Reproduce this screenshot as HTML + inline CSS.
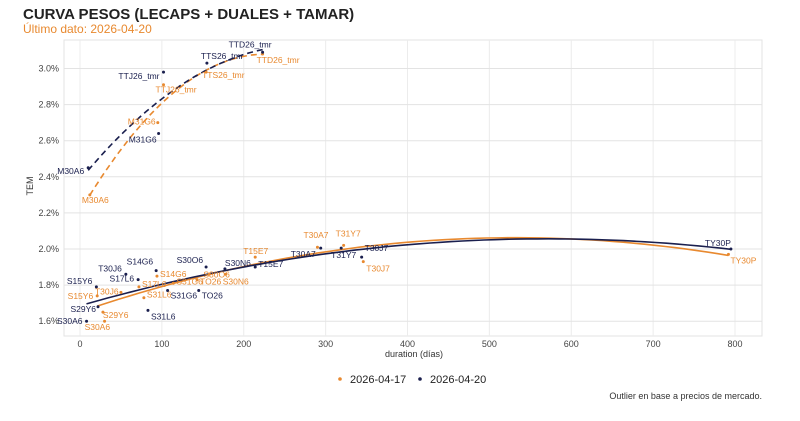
<!DOCTYPE html>
<html><head><meta charset="utf-8"><style>
body{margin:0;background:#fff;width:800px;height:416px;overflow:hidden;font-family:"Liberation Sans",sans-serif}
svg text{font-family:"Liberation Sans",sans-serif}
</style></head><body>
<svg id="chart" width="800" height="416" xmlns="http://www.w3.org/2000/svg">
<text x="23" y="19" font-size="15" font-weight="bold" fill="#222">CURVA PESOS (LECAPS + DUALES + TAMAR)</text>
<text x="23" y="33" font-size="12" fill="#e8892f">Último dato: 2026-04-20</text>
<text transform="translate(33,186) rotate(-90)" font-size="9" fill="#333" text-anchor="middle">TEM</text>
<text x="414" y="357" font-size="9" fill="#333" text-anchor="middle">duration (días)</text>
<g>
<circle cx="340" cy="379" r="1.8" fill="#e8892f"/>
<text x="350" y="383" font-size="11" fill="#222">2026-04-17</text>
<circle cx="420" cy="379" r="1.8" fill="#1a1f4e"/>
<text x="430" y="383" font-size="11" fill="#222">2026-04-20</text>
</g>
<text x="762" y="399" font-size="9" fill="#333" text-anchor="end">Outlier en base a precios de mercado.</text>
<g id="grid"></g><g id="marks"></g>
</svg>
<script>
const xTicks=[0,100,200,300,400,500,600,700,800];
const yTicks=[1.6,1.8,2.0,2.2,2.4,2.6,2.8,3.0];
// 2026-04-20 (navy)
const navyFixedNames=["S30A6","S29Y6","S15Y6","T30J6","S17L6","S14G6","S31L6","S31G6","TO26","S30O6","S30N6","T15E7","T30A7","T31Y7","T30J7","TY30P"];
const navyFixedDays=[8,22,20,56,71,93,83,107,145,154,177,214,294,319,344,795];
const navyFixedRates=[1.60,1.68,1.79,1.86,1.83,1.88,1.66,1.77,1.77,1.90,1.89,1.90,2.005,2.005,1.955,2.00];
const navyTamarNames=["M30A6","M31G6","TTJ26_tmr","TTS26_tmr","TTD26_tmr"];
const navyTamarDays=[10,96,102,155,223];
const navyTamarRates=[2.45,2.64,2.98,3.03,3.09];
// 2026-04-17 (orange)
const orFixedNames=["S30A6","S29Y6","S15Y6","T30J6","S17L6","S31L6","S14G6","S31G6","TO26","S30O6","S30N6","T15E7","T30A7","T31Y7","T30J7","TY30P"];
const orFixedDays=[30,28,21,50,72,78,94,114,143,158,178,214,290,322,346,792];
const orFixedRates=[1.60,1.65,1.74,1.76,1.79,1.73,1.85,1.81,1.83,1.86,1.86,1.955,2.01,2.02,1.93,1.97];
const orTamarNames=["M30A6","M31G6","TTJ26_tmr","TTS26_tmr","TTD26_tmr"];
const orTamarDays=[12,95,102,154,223];
const orTamarRates=[2.30,2.70,2.91,2.98,3.08];
// label placement offsets (dx,dy,anchor) – style only
const navyFixedLbl=[[-4,3,"end"],[-2,5,"end"],[-4,-3,"end"],[-4,-3,"end"],[-4,2,"end"],[-3,-6,"end"],[3,9,"start"],[3,8,"start"],[3,8,"start"],[-3,-4,"end"],[0,-3,"start"],[3,0,"start"],[-30,9,"start"],[-10,10,"start"],[3,-6,"start"],[-26,-3,"start"]];
const orFixedLbl=[[-20,9,"start"],[0,6,"start"],[-4,3,"end"],[-26,2,"start"],[3,0,"start"],[3,0,"start"],[3,1,"start"],[3,1,"start"],[3,5,"start"],[-6,3,"start"],[-3,10,"start"],[-12,-3,"start"],[-14,-9,"start"],[-8,-9,"start"],[3,10,"start"],[2,9,"start"]];
const navyTamarLbl=[[-4,6,"end"],[-2,9,"end"],[-4,7,"end"],[-6,-4,"start"],[-34,-5,"start"]];
const orTamarLbl=[[-8,8,"start"],[-30,2,"start"],[-8,8,"start"],[-4,6,"start"],[-6,9,"start"]];

const NAVY="#1a1f4e",OR="#e8892f",NS="http://www.w3.org/2000/svg";
const X0=80,XS=655/800,Y0=249,YS=180.5;
const xs=d=>X0+d*XS, ys=r=>Y0-(r-2.0)*YS;
const grid=document.getElementById('grid'),marks=document.getElementById('marks');
function mk(tag,attrs,parent){const e=document.createElementNS(NS,tag);for(const k in attrs)e.setAttribute(k,attrs[k]);parent.appendChild(e);return e;}
const border=mk('rect',{x:64,y:40,width:698,height:296,fill:'none',stroke:'#e3e3e3'},grid);


xTicks.forEach(t=>{
 const l=mk('line',{x1:xs(t),x2:xs(t),y1:40,y2:336,stroke:'#ececec'},grid);
 
 
 const tx=mk('text',{x:xs(t),y:347,'font-size':9,fill:'#444','text-anchor':'middle'},grid);tx.textContent=t;
 
 
});
yTicks.forEach(t=>{
 const l=mk('line',{x1:64,x2:762,y1:ys(t),y2:ys(t),stroke:'#e3e3e3'},grid);
 
 
 const tx=mk('text',{x:59,y:ys(t)+3,'font-size':9,fill:'#444','text-anchor':'end'},grid);tx.textContent=t.toFixed(1)+'%';
 
 
});
function quadFit(xa,ya){
 const n=xa.length;let S=[[0,0,0],[0,0,0],[0,0,0]],B=[0,0,0];
 for(let i=0;i<n;i++){const v=[1,xa[i],xa[i]*xa[i]];for(let a=0;a<3;a++){B[a]+=v[a]*ya[i];for(let b=0;b<3;b++)S[a][b]+=v[a]*v[b];}}
 const M=S.map((r,i)=>[...r,B[i]]);
 for(let c=0;c<3;c++){let p=c;for(let r=c+1;r<3;r++)if(Math.abs(M[r][c])>Math.abs(M[p][c]))p=r;[M[c],M[p]]=[M[p],M[c]];
  for(let r=0;r<3;r++)if(r!==c){const f=M[r][c]/M[c][c];for(let k=c;k<4;k++)M[r][k]-=f*M[c][k];}}
 return [M[0][3]/M[0][0],M[1][3]/M[1][1],M[2][3]/M[2][2]];
}
function curve(days,rates,color,dash,name){
 const c=quadFit(days,rates),lo=Math.min(...days),hi=Math.max(...days);let d='';
 for(let i=0;i<=60;i++){const x=lo+(hi-lo)*i/60,y=c[0]+c[1]*x+c[2]*x*x;d+=(i?'L':'M')+xs(x).toFixed(1)+','+ys(y).toFixed(1);}
 const p=mk('path',{d:d,fill:'none',stroke:color,'stroke-width':1.6,'stroke-dasharray':dash||'none'},marks);
 
 
}
function points(names,days,rates,lbl,color,prefix){
 names.forEach((n,i)=>{
  const cx=xs(days[i]),cy=ys(rates[i]);
  const c=mk('circle',{cx:cx,cy:cy,r:1.5,fill:color},marks);
  
  
  const t=mk('text',{x:cx+lbl[i][0],y:cy+lbl[i][1],'font-size':8.5,fill:color,'text-anchor':lbl[i][2]},marks);t.textContent=n;
  
  
 });
}
curve(orFixedDays,orFixedRates,OR,null,'fit-curve-fixed-0417');
curve(navyFixedDays,navyFixedRates,NAVY,null,'fit-curve-fixed-0420');
curve(orTamarDays,orTamarRates,OR,'6,4','fit-curve-tamar-0417');
curve(navyTamarDays,navyTamarRates,NAVY,'6,4','fit-curve-tamar-0420');
points(orFixedNames,orFixedDays,orFixedRates,orFixedLbl,OR,'0417');
points(orTamarNames,orTamarDays,orTamarRates,orTamarLbl,OR,'0417');
points(navyFixedNames,navyFixedDays,navyFixedRates,navyFixedLbl,NAVY,'0420');
points(navyTamarNames,navyTamarDays,navyTamarRates,navyTamarLbl,NAVY,'0420');
</script>
</body></html>
